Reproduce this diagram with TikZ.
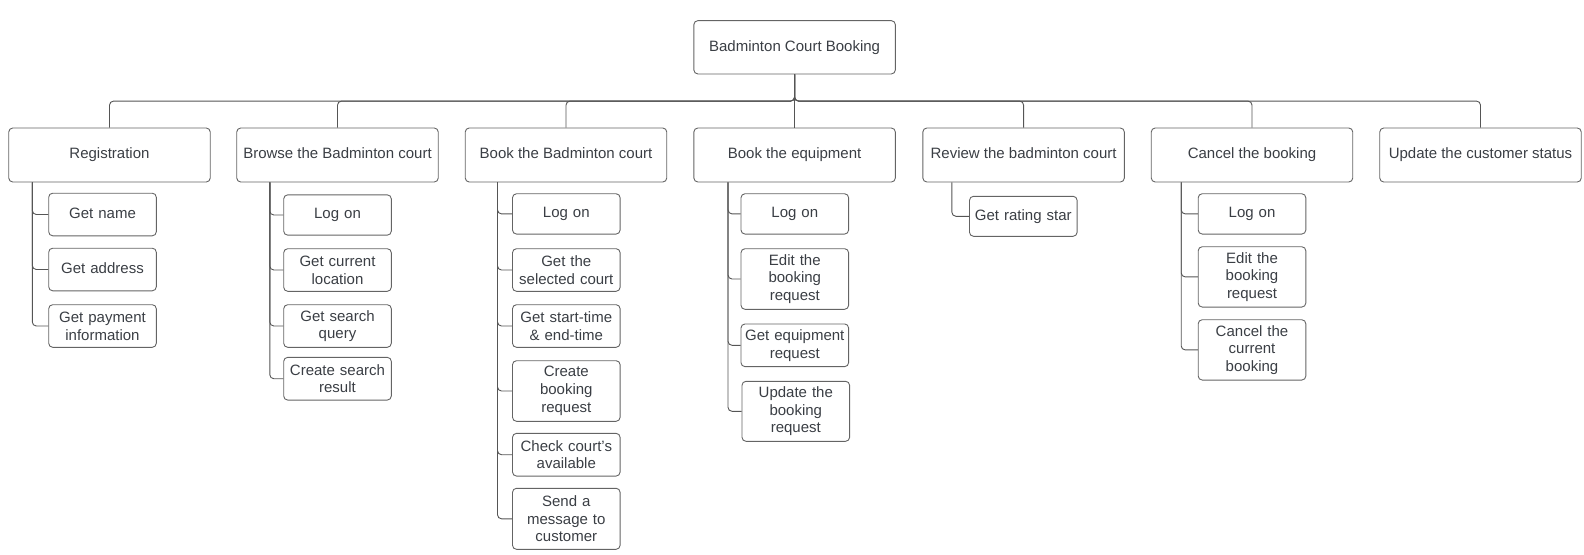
\documentclass[tikz,border=0pt]{standalone}
\usepackage{fontspec}
\setmainfont{Liberation Sans}
\definecolor{txt}{RGB}{58,62,68}
\definecolor{edge}{RGB}{85,85,85}
\definecolor{frame}{RGB}{100,100,100}
\begin{document}
\begin{tikzpicture}[x=1pt,y=-1pt,
  every node/.style={font=\fontsize{15pt}{17.7pt}\selectfont, text=txt},
  topbox/.style={draw=frame, line width=0.9pt, rounded corners=4pt, minimum width=201.5pt, minimum height=54pt, inner sep=0pt, text height=11pt, text depth=3.2pt},
  subbox/.style={draw=frame, line width=0.9pt, rounded corners=4pt, minimum width=107.6pt, text width=104pt, align=center, inner sep=1.8pt},
  oneline/.style={text height=11pt, text depth=3.2pt},
  link/.style={draw=edge, line width=0.9pt, rounded corners=4pt}]
\useasboundingbox (0,0) rectangle (1584,554);

% root and first level
\node[topbox, minimum height=53.3pt] (root) at (794.6,47.3) {Badminton Court Booking};
\node[topbox] (p1) at (109.5,155) {Registration};
\node[topbox] (p2) at (337.5,155) {Browse the Badminton court};
\node[topbox] (p3) at (566,155) {Book the Badminton court};
\node[topbox] (p4) at (794.6,155) {Book the equipment};
\node[topbox] (p5) at (1023.6,155) {Review the badminton court};
\node[topbox] (p6) at (1252,155) {Cancel the booking};
\node[topbox] (p7) at (1480.5,155) {Update the customer status};

\foreach \p in {p1,p2,p3,p4,p5,p6,p7}
  \draw[link] (root.south) -- ++(0,26.7) -| (\p.north);

% Registration
\node[subbox, oneline, minimum height=42.6pt] (r1) at (102.5,214.5) {Get name};
\node[subbox, oneline, minimum height=42.6pt] (r2) at (102.5,269.5) {Get address};
\node[subbox, minimum height=42.6pt] (r3) at (102.5,326) {Get payment\\information};
\foreach \c in {r1,r2,r3}
  \draw[link] ([xshift=24pt]p1.south west) |- (\c.west);

% Browse
\node[subbox, oneline, minimum height=40.3pt] (b1) at (337.5,215) {Log on};
\node[subbox, minimum height=42.6pt] (b2) at (337.5,270) {Get current\\location};
\node[subbox, minimum height=42.6pt] (b3) at (337.5,326) {Get search\\query};
\node[subbox, minimum height=42.7pt] (b4) at (337.5,378.7) {Create search\\result};
\foreach \c in {b1,b2,b3,b4}
  \draw[link] ([xshift=33.5pt]p2.south west) |- (\c.west);

% Book the court
\node[subbox, oneline, minimum height=40.3pt] (c1) at (566.3,213.9) {Log on};
\node[subbox, minimum height=42.6pt] (c2) at (566.3,270) {Get the\\selected court};
\node[subbox, minimum height=42.6pt] (c3) at (566.3,326) {Get start-time\\\& end-time};
\node[subbox, minimum height=60.6pt] (c4) at (566.3,391) {Create\\booking\\request};
\node[subbox, minimum height=42.7pt] (c5) at (566.3,454.7) {Check court's\\available};
\node[subbox, minimum height=61pt] (c6) at (566.3,518.8) {Send a\\message to\\customer};
\foreach \c in {c1,c2,c3,c4,c5,c6}
  \draw[link] ([xshift=32.7pt]p3.south west) |- (\c.west);

% Book the equipment
\node[subbox, oneline, minimum height=40.3pt] (e1) at (794.8,213.9) {Log on};
\node[subbox, minimum height=60.6pt] (e2) at (794.8,279) {Edit the\\booking\\request};
\node[subbox, minimum height=42.7pt] (e3) at (794.8,345.3) {Get equipment\\request};
\node[subbox, minimum height=60pt] (e4) at (795.8,411.3) {Update the\\booking\\request};
\foreach \c in {e1,e2,e3,e4}
  \draw[link] ([xshift=34.6pt]p4.south west) |- (\c.west);

% Review
\node[subbox, oneline, minimum height=40pt] (v1) at (1023.3,216.3) {Get rating star};
\draw[link] ([xshift=29.5pt]p5.south west) |- (v1.west);

% Cancel
\node[subbox, oneline, minimum height=40.3pt] (k1) at (1252,213.9) {Log on};
\node[subbox, minimum height=60.3pt] (k2) at (1252,276.9) {Edit the\\booking\\request};
\node[subbox, minimum height=60.3pt] (k3) at (1252,349.9) {Cancel the\\current\\booking};
\foreach \c in {k1,k2,k3}
  \draw[link] ([xshift=30.4pt]p6.south west) |- (\c.west);
\end{tikzpicture}
\end{document}
